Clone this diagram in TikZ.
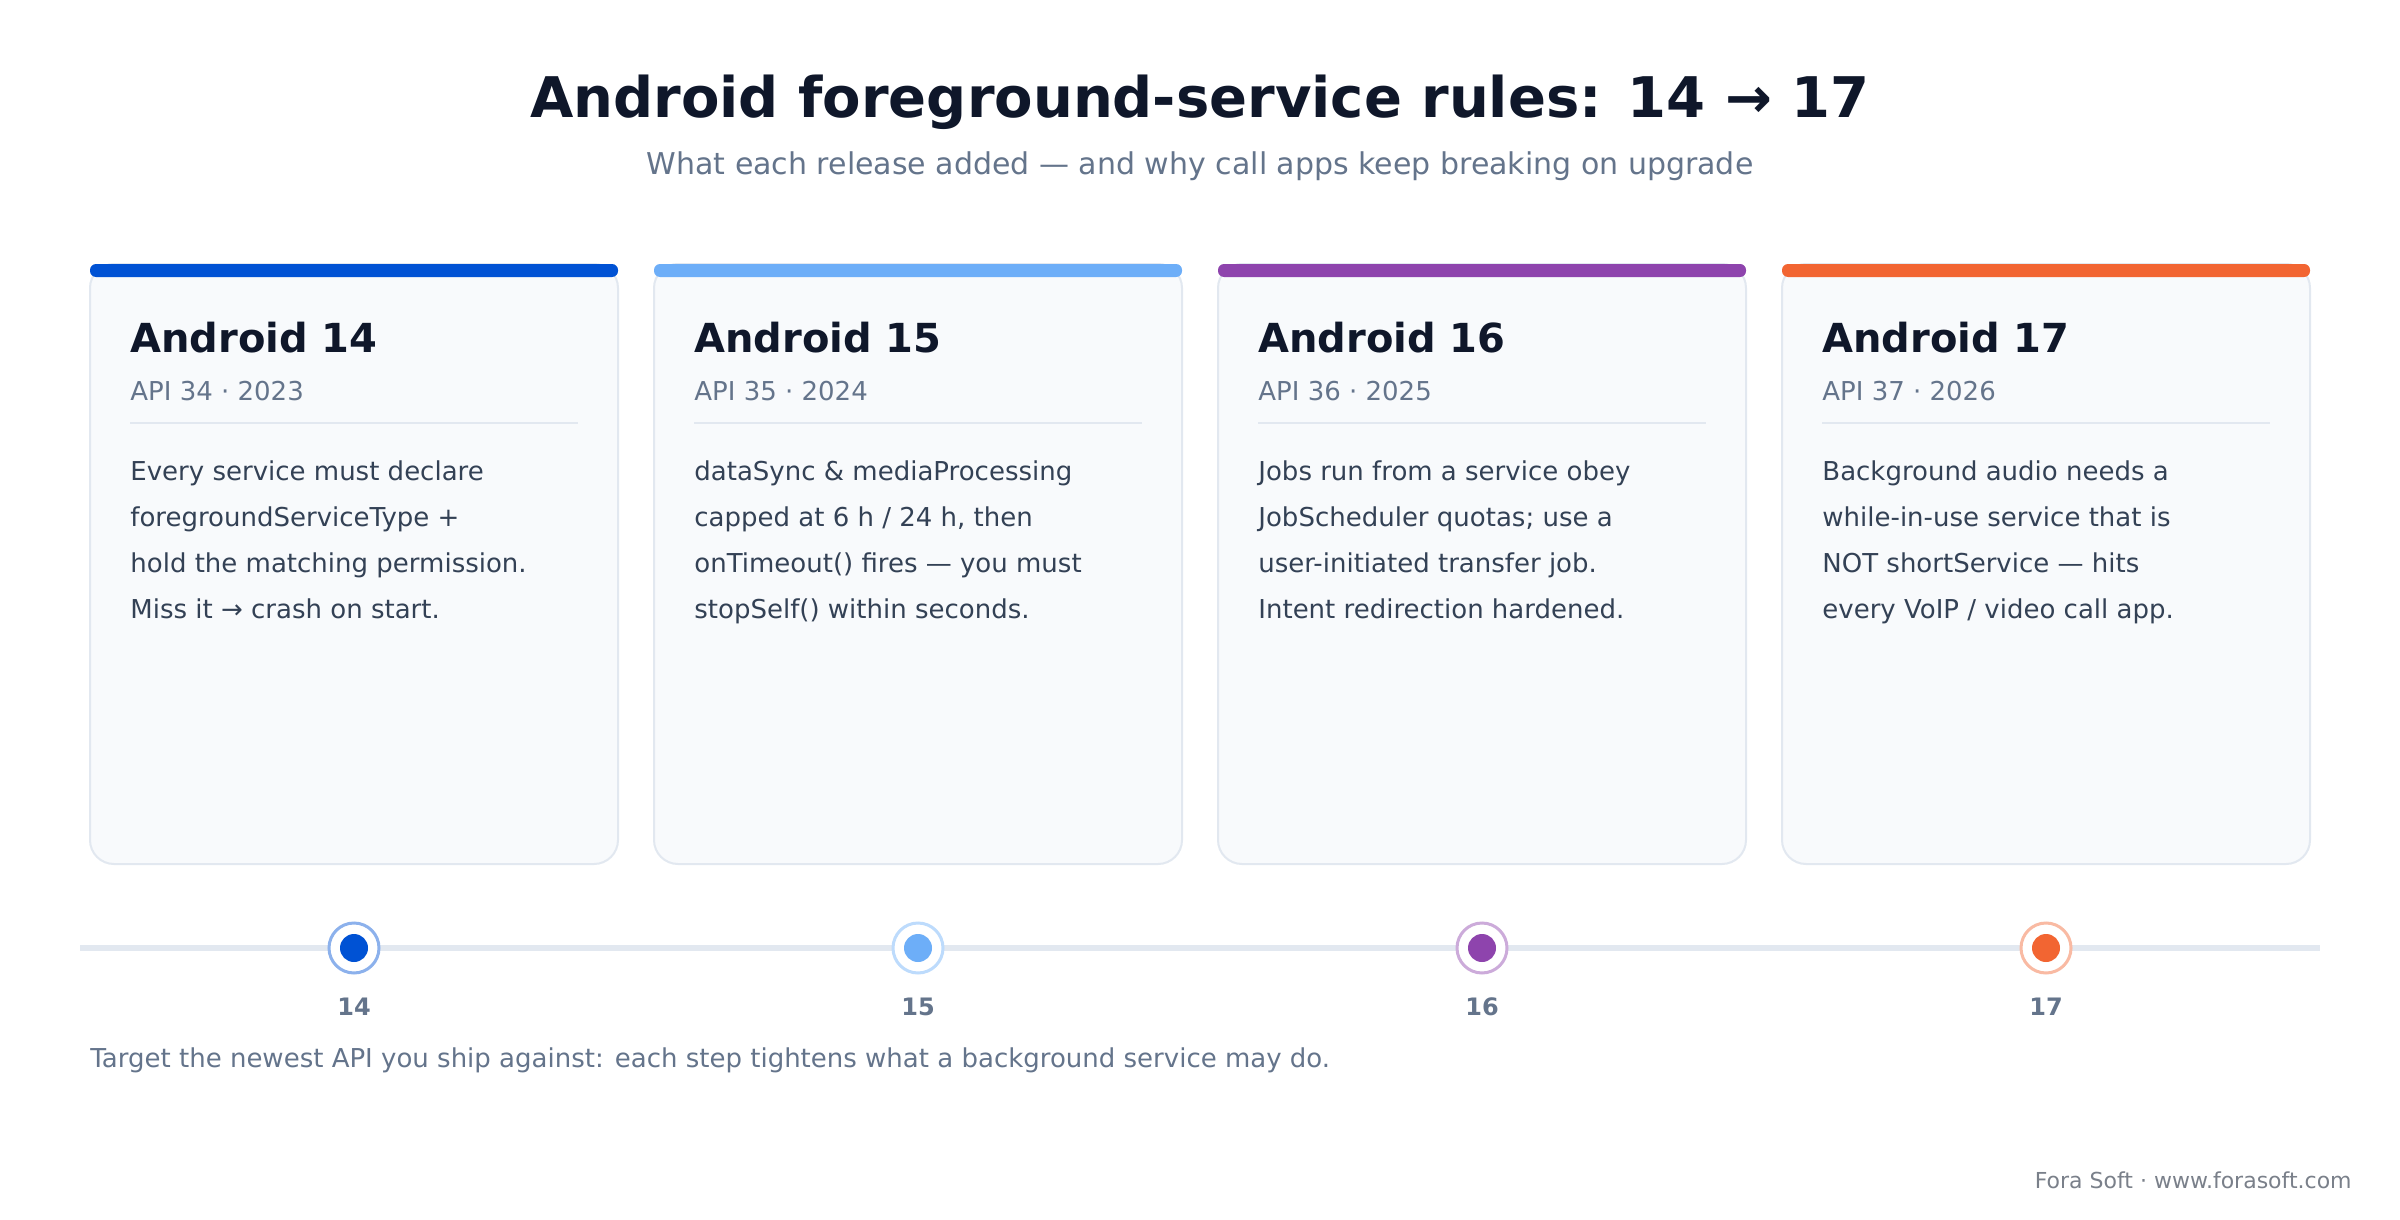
\documentclass[tikz,border=0pt]{standalone}
\usepackage{fontspec}
\setmainfont{DejaVu Sans}
\usepackage{xcolor}
\usepackage{tikz}
\usetikzlibrary{positioning}
\definecolor{ink}{HTML}{0F172A}
\definecolor{slate}{HTML}{64748B}
\definecolor{bodyink}{HTML}{334155}
\definecolor{cardfill}{HTML}{F8FAFC}
\definecolor{cardline}{HTML}{E2E8F0}
\definecolor{footgray}{HTML}{7A808A}
\definecolor{cblue}{HTML}{0052D4}
\definecolor{csky}{HTML}{6DAEF8}
\definecolor{cpurple}{HTML}{8E44AD}
\definecolor{corange}{HTML}{F26532}
\tikzset{card/.style={draw=cardline,line width=1pt,fill=cardfill,rounded corners=12pt,
           minimum width=264pt,minimum height=300pt,inner sep=0pt},
         cardtitle/.style={anchor=base west,inner sep=0pt,text=ink,font=\fontsize{20}{24}\selectfont\bfseries},
         apiline/.style={anchor=base west,inner sep=0pt,text=slate,font=\fontsize{13}{16}\selectfont},
         bodyline/.style={anchor=base west,inner sep=0pt,text=bodyink,font=\fontsize{13}{16}\selectfont},
         ring/.style={circle,draw=#1!45,line width=1.5pt,fill=white,minimum size=25pt,inner sep=0pt},
         dot/.style={circle,fill=#1,minimum size=14pt,inner sep=0pt},
         yearlabel/.style={anchor=base,inner sep=0pt,text=slate,font=\fontsize{12}{14}\selectfont\bfseries}}

\begin{document}
\begin{tikzpicture}[x=1pt,y=-1pt]
\path[use as bounding box,fill=white](0,0) rectangle (1200,610);
\node[anchor=base,inner sep=0pt,text=ink,font=\fontsize{28}{34}\selectfont\bfseries] (title) at (600,58.7)
  {Android foreground-service rules: 14 → 17};
\node[anchor=base,inner sep=0pt,text=slate,font=\fontsize{15}{18}\selectfont] (subtitle) at (600,87.5)
  {What each release added — and why call apps keep breaking on upgrade};
% timeline
\coordinate (tl-w) at (40,474);
\coordinate (tl-e) at (1160,474);
\draw[cardline,line width=3pt](tl-w)--(tl-e);
% cards
\foreach \x/\col/\ver/\api/\yr in {45/cblue/14/34/2023,327/csky/15/35/2024,609/cpurple/16/36/2025,891/corange/17/37/2026}{
  \node[card] (card\ver) at ({\x+132},282) {};
  \fill[\col,rounded corners=3pt]({\x},132) rectangle ++(264,6.5);
  \node[cardtitle] (name\ver) at ({\x+20},176) {Android \ver};
  \node[apiline] (api\ver) at ({\x+20},200) {API \api\ · \yr};
  \draw[cardline,line width=1pt]({\x+20},211.5)--++(224,0);
  \node[ring=\col] (ring\ver) at ({\x+132},474) {};
  \node[dot=\col] (dot\ver) at (ring\ver) {};
  \node[yearlabel] (year\ver) at ({\x+132},507.5) {\ver};
}
\foreach \l [count=\k] in {{Every service must declare},{foregroundServiceType +},
    {hold the matching permission.},{Miss it → crash on start.}}
  \node[bodyline] (body14-\k) at (65,217+23*\k) {\l};
\foreach \l [count=\k] in {{dataSync \& mediaProcessing},{capped at 6 h / 24 h, then},
    {onTimeout() fires — you must},{stopSelf() within seconds.}}
  \node[bodyline] (body15-\k) at (347,217+23*\k) {\l};
\foreach \l [count=\k] in {{Jobs run from a service obey},{JobScheduler quotas; use a},
    {user-initiated transfer job.},{Intent redirection hardened.}}
  \node[bodyline] (body16-\k) at (629,217+23*\k) {\l};
\foreach \l [count=\k] in {{Background audio needs a},{while-in-use service that is},
    {NOT shortService — hits},{every VoIP / video call app.}}
  \node[bodyline] (body17-\k) at (911,217+23*\k) {\l};
% footer
\node[anchor=base west,inner sep=0pt,text=slate,font=\fontsize{13}{16}\selectfont] (note) at (45,533.7)
  {Target the newest API you ship against: each step tightens what a background service may do.};
\node[anchor=base east,inner sep=0pt,text=footgray,font=\fontsize{11}{13}\selectfont] (credit) at (1176,594)
  {Fora Soft · www.forasoft.com};
\end{tikzpicture}
\end{document}
